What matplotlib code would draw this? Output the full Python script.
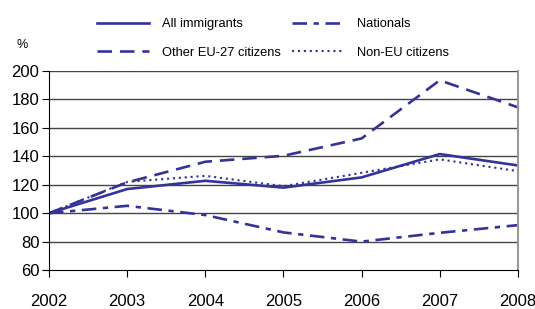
import matplotlib
matplotlib.use("Agg")
import matplotlib.pyplot as plt

years = [2002, 2003, 2004, 2005, 2006, 2007, 2008]
all_immigrants = [100, 117, 122.8, 118, 125.2, 141.6, 133.6]
other_eu27 = [100, 121.7, 136.2, 140.4, 152.6, 193.5, 174.5]
nationals = [100, 105.2, 98.7, 86.5, 80, 86.2, 91.6]
non_eu = [100, 122, 126.3, 119, 128.4, 137.9, 129.6]
yticks = [60, 80, 100, 120, 140, 160, 180, 200]

plt.rcParams['font.family'] = ['Liberation Sans', 'DejaVu Sans']
color = '#333399'

fig = plt.figure(figsize=(5.35, 3.09), dpi=100)
ax = fig.add_axes([0.0916, 0.126, 0.968 - 0.0916, 0.770 - 0.126])

lw = 1.9
l1, = ax.plot(years, all_immigrants, color=color, lw=lw, label='All immigrants')
l2, = ax.plot(years, nationals, color=color, lw=lw, dashes=(5.5, 2.5, 2, 2.5), label='Nationals')
l3, = ax.plot(years, other_eu27, color=color, lw=lw, dashes=(5.5, 3), label='Other EU-27 citizens')
l4, = ax.plot(years, non_eu, color=color, lw=lw * 0.8, dashes=(1, 1.8), label='Non-EU citizens')

ax.set_xlim(2002, 2008)
ax.set_ylim(60, 200)
ax.set_yticks(yticks)
ax.set_xticks(years)
for y in yticks[1:]:
    ax.axhline(y, color='#444444', lw=1.0, zorder=0)

ax.spines['left'].set_color('black')
ax.spines['bottom'].set_color('black')
ax.spines['right'].set_color('#999999')
ax.spines['right'].set_linewidth(1.5)
ax.spines['top'].set_visible(False)
ax.tick_params(axis='both', labelsize=12, direction='out', length=5, color='black')
ax.tick_params(axis='x', pad=12)
ax.tick_params(axis='y', pad=2)

fig.text(0.03, 0.845, '%', fontsize=9)

leg = fig.legend(handles=[l1, l3, l2, l4], loc='upper left', bbox_to_anchor=(0.16, 0.978),
                 ncol=2, frameon=False, fontsize=9.3, handlelength=4.0, handletextpad=1.05,
                 columnspacing=0.8, labelspacing=1.25)

fig.savefig('out.png', dpi=100)
